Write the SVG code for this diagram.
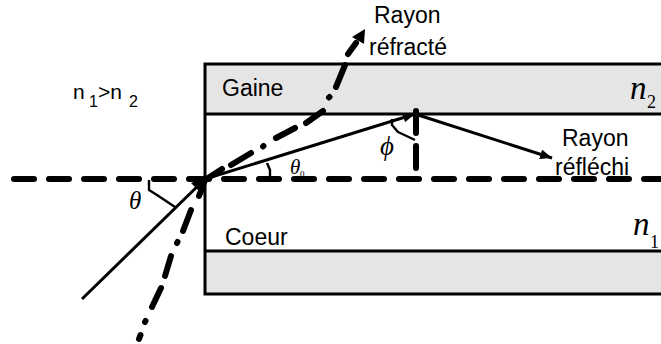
<svg xmlns="http://www.w3.org/2000/svg" width="661" height="344" viewBox="0 0 661 344">
<style>
.band{fill:#e5e5e5;stroke:none}
.edge{fill:none;stroke:#000;stroke-width:3}
.ray{fill:none;stroke:#000;stroke-width:3}
.thin{fill:none;stroke:#000;stroke-width:2.4;stroke-linejoin:round}
.dash{fill:none;stroke:#000;stroke-width:6;stroke-linecap:round}
.t{font-family:"Liberation Sans",Arial,sans-serif;font-size:23px;fill:#000}
.r{font-family:"Liberation Sans",Arial,sans-serif;font-size:21px;fill:#000}
.i{font-family:"Liberation Sans",Arial,sans-serif;font-size:16px;fill:#000}
.m{font-family:"Liberation Serif","Times New Roman",serif;font-style:italic;fill:#000}
.s{font-family:"Liberation Serif","Times New Roman",serif;fill:#000}
</style>
<defs>
<marker id="a" markerUnits="userSpaceOnUse" markerWidth="14" markerHeight="12" refX="12" refY="5" orient="auto"><path d="M0 0L12 5L0 10z" fill="#000"/></marker>
</defs>
<g id="gaine">
<rect class="band" x="205" y="64" width="456" height="50"/>
<path class="edge" d="M661 64H205V250"/>
<path class="edge" d="M205 114H661"/>
<text class="t" x="222" y="96">Gaine</text>
<text class="m" x="630" y="99" font-size="33">n</text>
<text class="s" x="647" y="108" font-size="18">2</text>
</g>
<g id="coeur">
<rect class="band" x="205" y="251" width="456" height="43"/>
<path class="edge" d="M205 251H661M661 294H205V250"/>
<text class="t" x="225" y="245">Coeur</text>
<text class="m" x="633" y="235" font-size="33">n</text>
<text class="s" x="650" y="248" font-size="18">1</text>
</g>
<g id="indices">
<text class="r" x="73" y="99">n</text>
<text class="i" x="89" y="107">1</text>
<text class="r" x="98" y="99">&gt;n</text>
<text class="i" x="129" y="107">2</text>
</g>
<g id="connectors">
<path class="dash" d="M14 179H661" stroke-dasharray="20 15"/>
<path class="ray" d="M82 299L205 179"/>
<path d="M191 183L207 177L203 195z" fill="#000"/>
<path class="ray" marker-end="url(#a)" d="M205 179L415 114"/>
<path class="ray" marker-end="url(#a)" d="M415 114L552 158"/>
<path class="dash" d="M416 111V133M416 146V168"/>
<path class="dash" d="M139 339L140.500 335M145 322L145.500 321M152 307L161 288M165 276L171 256M177 243L177.500 242M183 231L191 210M199 196L205 180L222 169M231 165L251 153M263 146.500L263.500 146M276 138L295 128M306 123L323 111M329 97.500L329.500 97M336 87L345 65M348 54L356 43"/>
<path d="M365 29L364 44L352 37z" fill="#000"/>
<path class="thin" d="M149 180V190L157 195L175 207"/>
<path class="thin" d="M392 119V125L398 132L415 140"/>
<path class="thin" d="M267 163L270 170V178"/>
</g>
<g id="labels">
<text class="t" x="374" y="23">Rayon</text>
<text class="t" x="369" y="55">réfracté</text>
<text class="t" x="562" y="146">Rayon</text>
<text class="t" x="555" y="175">réfléchi</text>
<text class="m" x="129" y="209" font-size="25">θ</text>
<text class="m" x="290" y="174" font-size="21">θ</text>
<text class="s" x="300" y="177" font-size="9">0</text>
<text class="m" x="380" y="155" font-size="27">ϕ</text>
</g>
</svg>
